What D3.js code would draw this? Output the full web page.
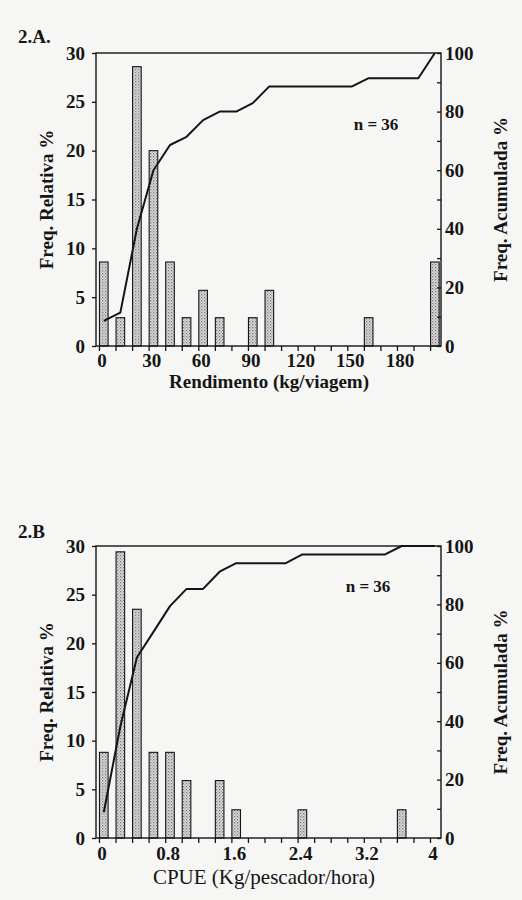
<!DOCTYPE html>
<html lang="pt">
<head>
<meta charset="UTF-8">
<title>Rendimento e CPUE</title>
<script src="https://d3js.org/d3.v7.min.js"></script>
<style>
  html, body { margin: 0; padding: 0; background: #f6f6f4; }
  svg { display: block; }
  text { font-family: "Liberation Serif", "Times New Roman", Times, serif; fill: #151515; }
  .tick text { font-family: "Liberation Serif", "Times New Roman", Times, serif; font-size: 19px; font-weight: bold; }
  .bold { font-weight: bold; }
</style>
</head>
<body>
<script>
// ---- data ----
// 2.A  rendimento (kg/viagem), classes de 10 kg
const binsA = [0, 10, 20, 30, 40, 50, 60, 70, 80, 90, 100, 110, 120, 130, 140, 150, 160, 170, 180, 190, 200];
const relA  = [8.6, 2.9, 28.6, 20.0, 8.6, 2.9, 5.7, 2.9, 0, 2.9, 5.7, 0, 0, 0, 0, 0, 2.9, 0, 0, 0, 8.6];
const cumA  = [8.6, 11.4, 40.0, 60.0, 68.6, 71.4, 77.1, 80.0, 80.0, 82.9, 88.6, 88.6, 88.6, 88.6, 88.6, 88.6, 91.4, 91.4, 91.4, 91.4, 100];
const labelsA = [0, 30, 60, 90, 120, 150, 180];

// 2.B  CPUE (kg/pescador/hora), classes de 0.2
const binsB = [0, 0.2, 0.4, 0.6, 0.8, 1.0, 1.2, 1.4, 1.6, 1.8, 2.0, 2.2, 2.4, 2.6, 2.8, 3.0, 3.2, 3.4, 3.6, 3.8, 4.0];
const relB  = [8.8, 29.4, 23.5, 8.8, 8.8, 5.9, 0, 5.9, 2.9, 0, 0, 0, 2.9, 0, 0, 0, 0, 0, 2.9, 0, 0];
const cumB  = [8.8, 38.2, 61.8, 70.6, 79.4, 85.3, 85.3, 91.2, 94.1, 94.1, 94.1, 94.1, 97.1, 97.1, 97.1, 97.1, 97.1, 97.1, 100, 100, 100];
const labelsB = [0, 0.8, 1.6, 2.4, 3.2, 4];

const relTicks = [0, 5, 10, 15, 20, 25, 30];
const cumTicks = [0, 10, 20, 30, 40, 50, 60, 70, 80, 90, 100];
const nLabel = "n = 36";

const svg = d3.select("body").append("svg")
    .attr("width", 522)
    .attr("height", 900);

// stippled fill for the bars
const pat = svg.append("defs").append("pattern")
    .attr("id", "stipple")
    .attr("width", 3).attr("height", 3)
    .attr("patternUnits", "userSpaceOnUse");
pat.append("rect").attr("width", 3).attr("height", 3).attr("fill", "#dcdcdc");
pat.append("rect").attr("width", 1.3).attr("height", 1.3).attr("fill", "#7a7a7a");
pat.append("rect").attr("x", 1.5).attr("y", 1.5).attr("width", 1.2).attr("height", 1.2).attr("fill", "#9a9a9a");

const left = 96, right = 441;

const panels = [
    { tag: "2.A.", tagY: 43, top: 53, bottom: 346,
      bins: binsA, rel: relA, cum: cumA, step: 10, domain: [-1.8, 206.6],
      labels: labelsA, fmt: d => d,
      xTitle: "Rendimento (kg/viagem)", xTitleBold: true, xTitleSize: 19, xTitleY: 388, xTitleX: 269,
      labelPad: 3, nX: 376, nY: 130 },
    { tag: "2.B", tagY: 538, top: 546, bottom: 838,
      bins: binsB, rel: relB, cum: cumB, step: 0.2, domain: [-0.036, 4.133],
      labels: labelsB, fmt: d => d,
      xTitle: "CPUE (Kg/pescador/hora)", xTitleBold: false, xTitleSize: 21, xTitleY: 884, xTitleX: 264,
      labelPad: 4, nX: 368, nY: 592 }
];

panels.forEach(p => {
    const g = svg.append("g");
    const x = d3.scaleLinear().domain(p.domain).range([left, right]);
    const yRel = d3.scaleLinear().domain([0, 30]).range([p.bottom, p.top]);
    const yCum = d3.scaleLinear().domain([0, 100]).range([p.bottom, p.top]);
    const barW = x(p.step * 0.52) - x(0);
    const mid = x(p.step * 0.26) - x(0);

    // bars
    g.selectAll("rect.bar")
        .data(p.bins.map((b, i) => ({ b: b, v: p.rel[i] })).filter(d => d.v > 0))
        .join("rect")
        .attr("class", "bar")
        .attr("x", d => x(d.b) + 0.5)
        .attr("y", d => yRel(d.v))
        .attr("width", barW)
        .attr("height", d => yRel(0) - yRel(d.v))
        .attr("fill", "url(#stipple)")
        .attr("stroke", "#151515")
        .attr("stroke-width", 1.1);

    // cumulative line
    const line = d3.line()
        .x((d, i) => x(p.bins[i]) + 0.5 + mid)
        .y(d => yCum(d));
    g.append("path")
        .datum(p.cum)
        .attr("d", line)
        .attr("fill", "none")
        .attr("stroke", "#151515")
        .attr("stroke-width", 2)
        .attr("stroke-linejoin", "round");

    // frame
    g.append("rect")
        .attr("x", left).attr("y", p.top)
        .attr("width", right - left).attr("height", p.bottom - p.top)
        .attr("fill", "none")
        .attr("stroke", "#151515")
        .attr("stroke-width", 1.4);

    // axes
    const xAxis = d3.axisBottom(x)
        .tickValues(p.bins)
        .tickSize(5)
        .tickPadding(p.labelPad)
        .tickFormat(d => p.labels.some(l => Math.abs(l - d) < 1e-9) ? p.fmt(d) : "");
    const gx = g.append("g").attr("transform", `translate(0,${p.bottom})`).call(xAxis);
    gx.selectAll("text").attr("dx", 2.5);
    gx.selectAll(".tick").filter(function () { return d3.select(this).select("text").text() === ""; })
        .select("text").remove();

    const gl = g.append("g").attr("transform", `translate(${left},0)`)
        .call(d3.axisLeft(yRel).tickValues(relTicks).tickSize(4).tickPadding(7));

    const gr = g.append("g").attr("transform", `translate(${right},0)`)
        .call(d3.axisRight(yCum).tickValues(cumTicks).tickSize(-4).tickPadding(4)
            .tickFormat(d => d % 20 === 0 ? d : ""));
    gr.selectAll(".tick").filter(d => d % 20 !== 0).select("text").remove();

    [gx, gl, gr].forEach(a => {
        a.attr("font-family", null).attr("font-size", null);
        a.select(".domain").remove();
        a.selectAll("line").attr("stroke", "#151515").attr("stroke-width", 1.3);
        a.selectAll("text").attr("fill", "#151515");
    });

    // titles
    svg.append("text").attr("class", "bold")
        .attr("x", 18).attr("y", p.tagY)
        .attr("font-size", 19)
        .text(p.tag);

    const cy = (p.top + p.bottom) / 2;
    svg.append("text").attr("class", "bold")
        .attr("transform", `translate(53,${cy}) rotate(-90)`)
        .attr("text-anchor", "middle")
        .attr("font-size", 19)
        .text("Freq. Relativa %");

    svg.append("text").attr("class", "bold")
        .attr("transform", `translate(507,${cy}) rotate(-90)`)
        .attr("text-anchor", "middle")
        .attr("font-size", 19)
        .text("Freq. Acumulada %");

    svg.append("text")
        .attr("class", p.xTitleBold ? "bold" : null)
        .attr("x", p.xTitleX).attr("y", p.xTitleY)
        .attr("text-anchor", "middle")
        .attr("font-size", p.xTitleSize)
        .text(p.xTitle);

    svg.append("text").attr("class", "bold")
        .attr("x", p.nX).attr("y", p.nY)
        .attr("text-anchor", "middle")
        .attr("font-size", 17)
        .text(nLabel);
});
</script>
</body>
</html>
